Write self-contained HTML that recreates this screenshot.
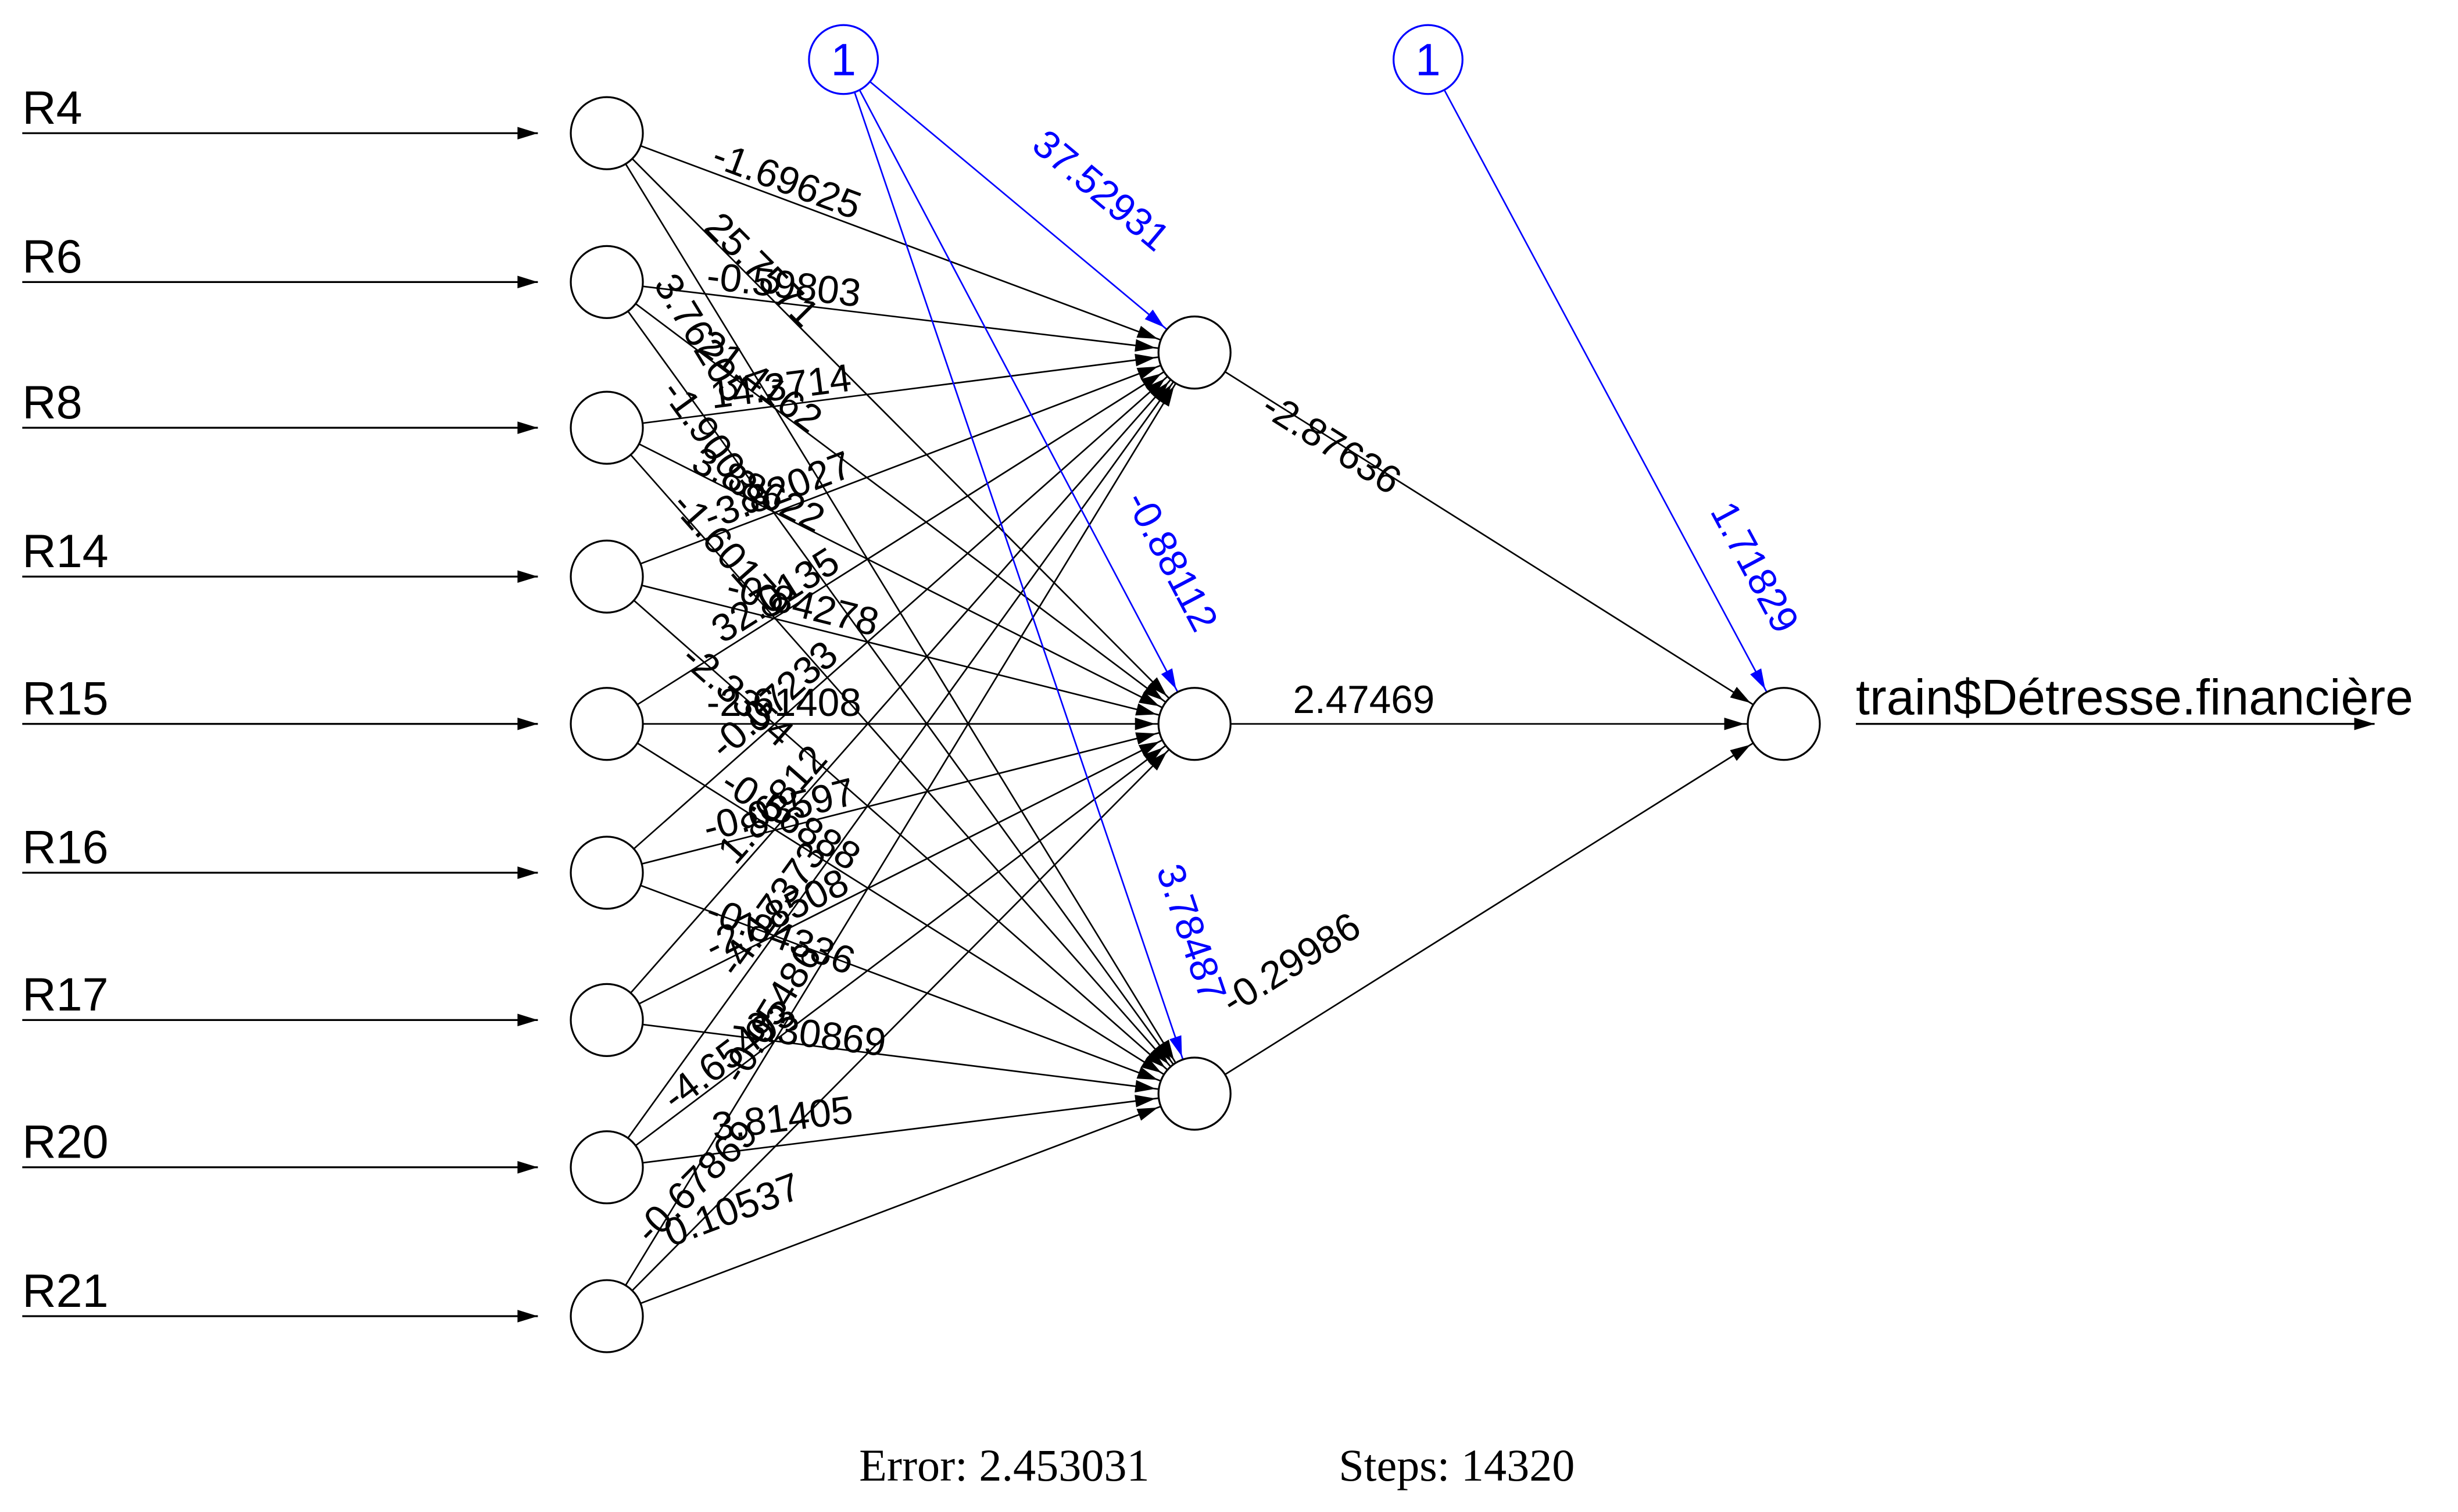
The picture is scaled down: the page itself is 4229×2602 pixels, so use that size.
<!DOCTYPE html>
<html><head><meta charset="utf-8"><style>html,body{margin:0;padding:0;background:#fff}svg{display:block}</style></head>
<body>
<svg xmlns="http://www.w3.org/2000/svg" width="4229" height="2602" viewBox="0 0 1568 965">
<defs>
<marker id="a" markerUnits="userSpaceOnUse" markerWidth="14" markerHeight="10" refX="38" refY="4" orient="auto" overflow="visible"><path d="M0,0 L13,4 L0,8 z" fill="#000"/></marker>
<marker id="b" markerUnits="userSpaceOnUse" markerWidth="14" markerHeight="10" refX="38" refY="4" orient="auto" overflow="visible"><path d="M0,0 L13,4 L0,8 z" fill="#00f"/></marker>
<marker id="c" markerUnits="userSpaceOnUse" markerWidth="14" markerHeight="10" refX="13" refY="4" orient="auto" overflow="visible"><path d="M0,0 L13,4 L0,8 z" fill="#000"/></marker>
</defs>
<g stroke="#000" stroke-width="1.2" marker-end="url(#c)">
<line x1="14" y1="85" x2="343" y2="85"/><line x1="14" y1="180" x2="343" y2="180"/><line x1="14" y1="273" x2="343" y2="273"/>
<line x1="14" y1="368" x2="343" y2="368"/><line x1="14" y1="462" x2="343" y2="462"/><line x1="14" y1="557" x2="343" y2="557"/>
<line x1="14" y1="651" x2="343" y2="651"/><line x1="14" y1="745" x2="343" y2="745"/><line x1="14" y1="840" x2="343" y2="840"/>
<line x1="1184" y1="462" x2="1515" y2="462"/>
</g>
<g stroke="#000" stroke-width="1" marker-end="url(#a)">
<line x1="387" y1="85" x2="762" y2="225"/><line x1="387" y1="180" x2="762" y2="225"/><line x1="387" y1="273" x2="762" y2="225"/><line x1="387" y1="368" x2="762" y2="225"/><line x1="387" y1="462" x2="762" y2="225"/><line x1="387" y1="557" x2="762" y2="225"/><line x1="387" y1="651" x2="762" y2="225"/><line x1="387" y1="745" x2="762" y2="225"/><line x1="387" y1="840" x2="762" y2="225"/>
<line x1="387" y1="85" x2="762" y2="462"/><line x1="387" y1="180" x2="762" y2="462"/><line x1="387" y1="273" x2="762" y2="462"/><line x1="387" y1="368" x2="762" y2="462"/><line x1="387" y1="462" x2="762" y2="462"/><line x1="387" y1="557" x2="762" y2="462"/><line x1="387" y1="651" x2="762" y2="462"/><line x1="387" y1="745" x2="762" y2="462"/><line x1="387" y1="840" x2="762" y2="462"/>
<line x1="387" y1="85" x2="762" y2="698"/><line x1="387" y1="180" x2="762" y2="698"/><line x1="387" y1="273" x2="762" y2="698"/><line x1="387" y1="368" x2="762" y2="698"/><line x1="387" y1="462" x2="762" y2="698"/><line x1="387" y1="557" x2="762" y2="698"/><line x1="387" y1="651" x2="762" y2="698"/><line x1="387" y1="745" x2="762" y2="698"/><line x1="387" y1="840" x2="762" y2="698"/>
<line x1="762" y1="225" x2="1138" y2="462"/><line x1="762" y1="462" x2="1138" y2="462"/><line x1="762" y1="698" x2="1138" y2="462"/>
</g>
<g stroke="#00f" stroke-width="1" marker-end="url(#b)">
<line x1="538" y1="38" x2="762" y2="225"/><line x1="538" y1="38" x2="762" y2="462"/><line x1="538" y1="38" x2="762" y2="698"/><line x1="911" y1="38" x2="1138" y2="462"/>
</g>
<g fill="#fff" stroke="#000" stroke-width="1.2">
<circle cx="387" cy="85" r="23"/><circle cx="387" cy="180" r="23"/><circle cx="387" cy="273" r="23"/><circle cx="387" cy="368" r="23"/><circle cx="387" cy="462" r="23"/><circle cx="387" cy="557" r="23"/><circle cx="387" cy="651" r="23"/><circle cx="387" cy="745" r="23"/><circle cx="387" cy="840" r="23"/>
<circle cx="762" cy="225" r="23"/><circle cx="762" cy="462" r="23"/><circle cx="762" cy="698" r="23"/><circle cx="1138" cy="462" r="23"/>
</g>
<g fill="#fff" stroke="#00f" stroke-width="1.2"><circle cx="538" cy="38" r="22"/><circle cx="911" cy="38" r="22"/></g>
<g font-family="Liberation Sans, Arial, sans-serif" font-size="30" fill="#000">
<text x="14" y="79">R4</text><text x="14" y="174">R6</text><text x="14" y="267">R8</text><text x="14" y="362">R14</text><text x="14" y="456">R15</text><text x="14" y="551">R16</text><text x="14" y="645">R17</text><text x="14" y="739">R20</text><text x="14" y="834">R21</text>
<text x="1184" y="456" font-size="32">train$Détresse.financière</text>
</g>
<g font-family="Liberation Sans, Arial, sans-serif" font-size="29" fill="#00f" text-anchor="middle">
<text x="538" y="48">1</text><text x="911" y="48">1</text>
</g>
<g font-family="Liberation Sans, Arial, sans-serif" font-size="25" fill="#000" text-anchor="middle">
<text transform="rotate(20.5 499 123)" x="499" y="123">-1.69625</text>
<text transform="rotate(6.8 499 190)" x="499" y="190">-0.59803</text>
<text transform="rotate(-7.3 499 255)" x="499" y="255">14.3714</text>
<text transform="rotate(-20.9 499 321)" x="499" y="321">-3.82027</text>
<text transform="rotate(-32.3 499 387)" x="499" y="387">32.0135</text>
<text transform="rotate(-41.5 499 453)" x="499" y="453">-0.07233</text>
<text transform="rotate(-48.6 499 519)" x="499" y="519">1.86812</text>
<text transform="rotate(-54.2 499 585)" x="499" y="585">-4.17373</text>
<text transform="rotate(-58.6 499 651)" x="499" y="651">-0.05486</text>
<text transform="rotate(45.2 480 178)" x="480" y="178">25.7571</text>
<text transform="rotate(36.9 480 250)" x="480" y="250">21.4162</text>
<text transform="rotate(26.7 480 320)" x="480" y="320">3.88622</text>
<text transform="rotate(14.1 510 394)" x="510" y="394">-0.84278</text>
<text transform="rotate(0 500 457)" x="500" y="457">-2.61408</text>
<text transform="rotate(-14.2 499 525)" x="499" y="525">-0.03597</text>
<text transform="rotate(-26.7 499 591)" x="499" y="591">-27.8508</text>
<text transform="rotate(-37 470 680)" x="470" y="680">-4.65493</text>
<text transform="rotate(-45.2 450 760)" x="450" y="760">-0.67869</text>
<text transform="rotate(58.5 440 220)" x="440" y="220">3.76205</text>
<text transform="rotate(54.1 450 290)" x="450" y="290">-1.90033</text>
<text transform="rotate(48.6 460 360)" x="460" y="360">-1.60179</text>
<text transform="rotate(41.3 465 450)" x="465" y="450">-2.3354</text>
<text transform="rotate(32.2 500 530)" x="500" y="530">-0.56888</text>
<text transform="rotate(20.6 495 605)" x="495" y="605">-0.84336</text>
<text transform="rotate(7.1 515 668)" x="515" y="668">-3.30869</text>
<text transform="rotate(-7.1 500 722)" x="500" y="722">3.81405</text>
<text transform="rotate(-20.7 470 780)" x="470" y="780">0.10537</text>
<text transform="rotate(32.2 845 290)" x="845" y="290">-2.87636</text>
<text x="870" y="455">2.47469</text>
<text transform="rotate(-32.1 828 622)" x="828" y="622">-0.29986</text>
</g>
<g font-family="Liberation Sans, Arial, sans-serif" font-size="25" fill="#00f" text-anchor="middle">
<text transform="rotate(39.9 697 128)" x="697" y="128">37.52931</text>
<text transform="rotate(62.2 740 362)" x="740" y="362">-0.88112</text>
<text transform="rotate(71.3 752 598)" x="752" y="598">3.78487</text>
<text transform="rotate(61.8 1112 366)" x="1112" y="366">1.71829</text>
</g>
<g font-family="Liberation Serif, Times New Roman, serif" font-size="29" fill="#000">
<text x="548" y="945">Error: 2.453031</text><text x="854" y="945">Steps: 14320</text>
</g>
</svg>
</body></html>
